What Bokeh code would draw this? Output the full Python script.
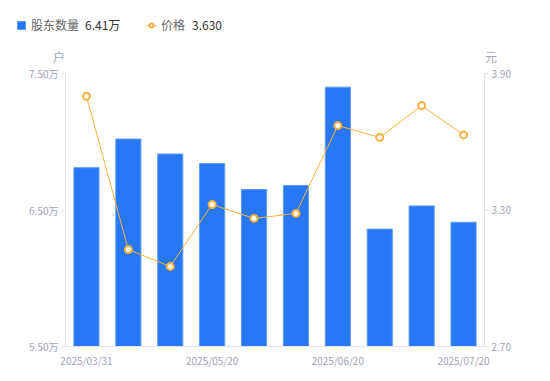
from bokeh.plotting import figure
from bokeh.models import Range1d, LinearAxis, FixedTicker, Legend, LegendItem
from bokeh.embed import file_html
from bokeh.resources import INLINE

# ---- data ----
dates = ["2025/03/31", "2025/04/10", "2025/04/30", "2025/05/20", "2025/05/31",
         "2025/06/10", "2025/06/20", "2025/06/30", "2025/07/10", "2025/07/20"]
holders = [6.81, 7.02, 6.91, 6.84, 6.65, 6.68, 7.40, 6.36, 6.53, 6.41]   # 万户
prices = [3.80, 3.126, 3.052, 3.324, 3.263, 3.285, 3.671, 3.619, 3.759, 3.630]  # 元
left_ticks = [5.5, 6.5, 7.5]
right_ticks = [2.70, 3.30, 3.90]
shown_dates = [0, 3, 6, 9]

FONT = "Noto Sans CJK SC"
BLUE = "#2878F5"
ORANGE = "#F8B13E"
GREY = "#A0A4B4"
AXIS = "#E3E3E3"

# plot area (axes box) in page pixels; the frame itself spans the whole canvas
FL, FT, FR, FB = 65, 73, 484, 346
W, H = 545, 376

n = len(dates)
x0, x1 = -0.5, n - 0.5
ux = (FR - FL) / (x1 - x0)
ly0, ly1 = left_ticks[0], left_ticks[-1]
uy = (FB - FT) / (ly1 - ly0)
ry0, ry1 = right_ticks[0], right_ticks[-1]
ur = (FB - FT) / (ry1 - ry0)

xs = list(range(n))
p = figure(width=W, height=H,
           x_range=Range1d(x0 - FL / ux, x1 + (W - FR) / ux),
           y_range=Range1d(ly0 - (H - FB) / uy, ly1 + FT / uy),
           output_backend="svg", toolbar_location=None, min_border=0)
p.extra_y_ranges = {"price": Range1d(ry0 - (H - FB) / ur, ry1 + FT / ur)}
p.grid.visible = False
p.outline_line_color = None

bars = p.vbar(x=xs, top=holders, bottom=ly0, width=0.6, fill_color=BLUE,
              line_color="#5E9CF7", line_width=1)
ln = p.line(x=xs, y=prices, y_range_name="price", line_color=ORANGE, line_width=1)
pts = p.scatter(x=xs, y=prices, y_range_name="price", size=7, marker="circle",
                fill_color="white", line_color=ORANGE, line_width=2)
dummy = p.scatter(x=[], y=[], size=0, fill_alpha=0, line_alpha=0)

def style(ax):
    ax.axis_line_color = AXIS
    ax.major_tick_line_color = AXIS
    ax.minor_tick_line_color = None
    ax.major_tick_in = 0
    ax.major_label_text_font = FONT
    ax.major_label_text_font_size = "10px"
    ax.major_label_text_color = GREY

xa = p.xaxis[0]
style(xa)
xa.ticker = FixedTicker(ticks=shown_dates)
xa.major_label_overrides = {i: dates[i] for i in shown_dates}
xa.major_tick_out = 0
xa.major_label_standoff = 6
xa.bounds = (x0, x1)
xa.fixed_location = ly0

ya = p.yaxis[0]
style(ya)
ya.ticker = FixedTicker(ticks=left_ticks)
ya.major_label_overrides = {t: f"{t:.2f}万" for t in left_ticks}
ya.major_tick_out = 4
ya.major_label_standoff = 3
ya.bounds = (ly0, ly1)
ya.fixed_location = x0

ra = LinearAxis(y_range_name="price")
style(ra)
ra.ticker = FixedTicker(ticks=right_ticks)
ra.major_label_overrides = {t: f"{t:.2f}" for t in right_ticks}
ra.major_tick_out = 4
ra.major_label_standoff = 3
ra.bounds = (ry0, ry1)
ra.fixed_location = x1
p.add_layout(ra, "right")

COMMON = dict(orientation="horizontal", padding=0, margin=0, label_height=12,
              label_text_font=FONT, label_text_font_size="12px",
              border_line_color=None, background_fill_alpha=0, glyph_height=10)

# ---- legend (icons + names) ----
p.add_layout(Legend(items=[LegendItem(label="股东数量", renderers=[bars]),
                           LegendItem(label="价格", renderers=[ln, pts])],
                    location=(16, H - 33), spacing=67, glyph_width=10,
                    label_standoff=5, label_width=48, label_text_color="#666666",
                    **COMMON), "center")

# ---- legend values and unit titles (text-only legends) ----
def text_item(text, left_px, bottom_px, color):
    p.add_layout(Legend(items=[LegendItem(label=text, renderers=[dummy])],
                        location=(left_px, H - bottom_px), glyph_width=0,
                        label_standoff=0, label_width=0, label_text_color=color,
                        **COMMON), "center")

text_item(f"{holders[-1]:.2f}万", 85, 33, "#333333")
text_item(f"{prices[-1]:.3f}", 192, 33, "#333333")
text_item("户", 53, 65, GREY)
text_item("元", 485, 65, GREY)

open("out.html", "w").write(file_html(p, INLINE))
